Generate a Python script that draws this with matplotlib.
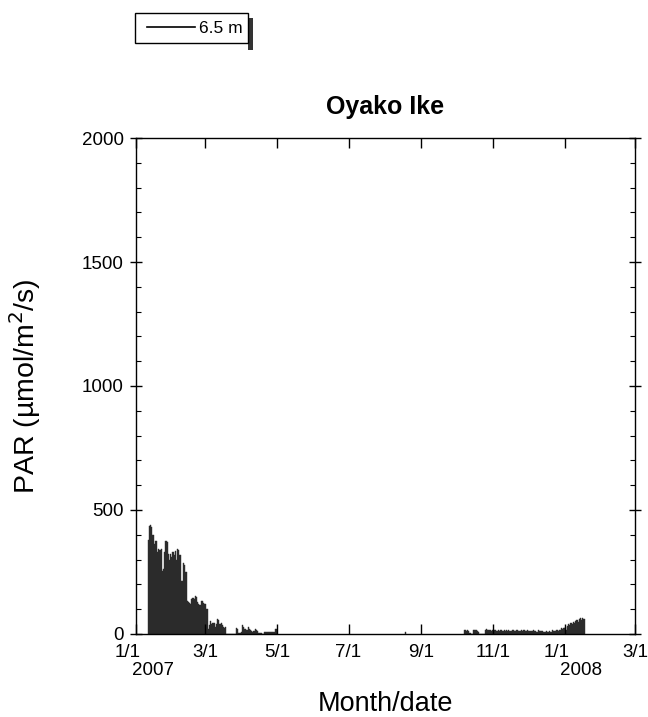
import numpy as np
import matplotlib
matplotlib.use("Agg")
import matplotlib.pyplot as plt
from matplotlib.patches import Rectangle
from matplotlib.lines import Line2D
from matplotlib.ticker import MultipleLocator
from matplotlib.transforms import ScaledTranslation, blended_transform_factory

plt.rcParams["font.family"] = ["Liberation Sans", "DejaVu Sans"]

# Daily PAR at 6.5 m, day numbers counted from 2007-01-01
early_start = 10
early_par = [
    380,
    435, 440, 430, 400,
    363, 375, 375, 330,
    343, 340, 343,
    254, 260,
    330, 375, 370,
    322, 300, 322, 310,
    330, 320, 335, 300,
    343, 340, 320,
    214, 214,
    286, 280, 250,
    133, 130, 125,
    121, 140,
    145, 140,
    153, 150, 130,
    121, 115,
    133, 133, 125,
    121, 121, 100,
    20, 35,
    52, 40, 45,
    44, 30, 40,
    60, 55, 40,
    44, 35,
    28, 25, 28,
    0, 0, 0, 0, 0, 0, 0, 0,
    24, 20,
    4, 5, 8,
    36, 30, 20,
    20, 15,
    28, 20, 15,
    10, 8, 12,
    20, 15, 10,
    4, 4, 4, 0, 0,
    8, 6, 8, 7, 8, 8, 6, 8, 8,
    22, 20,
]
summer_day = [229]
summer_par = [6]
late_start = 279
late_par = [
    14, 16, 12, 16, 10, 3,
    0, 0,
    16, 14, 16, 12, 8,
    0, 0, 0, 0, 0,
    18, 20, 16, 14, 18, 12, 16, 15, 17, 14, 12, 15, 13, 16, 14, 12,
    15, 13, 14, 12, 16, 13, 12, 14, 15, 12, 13, 14, 12, 11, 13, 15,
    12, 14, 13, 12, 14, 12, 10, 13, 12, 14,
    10, 12, 9, 14, 11, 13, 10, 12, 9, 8, 10, 6, 8, 12, 9, 14, 11, 10,
    13, 16, 12, 14, 15,
    26, 20, 24,
    30, 18, 34,
    42, 38, 44, 40,
    50, 46, 52, 55, 48,
    60, 63, 58, 65, 62,
]

tick_days = [0, 59, 120, 181, 243, 304, 365, 425]
tick_labels = ["1/1", "3/1", "5/1", "7/1", "9/1", "11/1", "1/1", "3/1"]
year_days = [0, 365]
year_labels = ["2007", "2008"]

days = np.concatenate([
    early_start + np.arange(len(early_par)),
    np.array(summer_day),
    late_start + np.arange(len(late_par)),
])
vals = np.concatenate([early_par, summer_par, late_par])

fig = plt.figure(figsize=(6.48, 7.17), dpi=100, facecolor="white")
ax = fig.add_axes([0.2099, 0.1158, 0.7701, 0.6917])

ax.bar(days, vals, width=1.0, align="edge", color="#2b2b2b",
       edgecolor="#2b2b2b", linewidth=0.3)

ax.set_xlim(0, 425)
ax.set_ylim(0, 2000)

ax.yaxis.set_major_locator(MultipleLocator(500))
ax.yaxis.set_minor_locator(MultipleLocator(100))
ax.set_xticks(tick_days)
ax.set_xticklabels(tick_labels)

ax.tick_params(axis="y", which="major", direction="inout", length=8,
               width=1, labelsize=13.5, pad=5, right=True)
ax.tick_params(axis="y", which="minor", direction="in", length=3.5,
               width=0.8, right=True)
ax.tick_params(axis="x", which="major", direction="in", length=7,
               width=1, labelsize=13.5, pad=7, top=True)
for sp in ax.spines.values():
    sp.set_linewidth(1.0)

# the two "1/1" labels sit a little left, with the year under them
for lab, d in zip(ax.get_xticklabels(), tick_days):
    if d in year_days:
        lab.set_transform(lab.get_transform()
                          + ScaledTranslation(-6 / 72, 0, fig.dpi_scale_trans))
trans = blended_transform_factory(ax.transData, ax.transAxes)
for d, y in zip(year_days, year_labels):
    ax.text(d, 0, y, transform=trans + ScaledTranslation(12 / 72, -20 / 72,
            fig.dpi_scale_trans), ha="center", va="top", fontsize=13.5)

ax.set_ylabel("PAR (\u00b5mol/m$^2$/s)", fontsize=20.5)
ax.yaxis.set_label_coords(-0.186, 0.5)
ax.set_xlabel("Month/date", fontsize=19.5)
ax.xaxis.set_label_coords(0.5, -0.115)
fig.text(0.595, 0.851, "Oyako Ike", ha="center", va="center",
         fontsize=18, fontweight="bold")

# legend box with dark right-hand shadow
fig.patches.append(Rectangle((0.3827, 0.9303), 0.0077, 0.0446,
                             transform=fig.transFigure, facecolor="#333333",
                             edgecolor="none", zorder=1))
fig.patches.append(Rectangle((0.2083, 0.9400), 0.1744, 0.0418,
                             transform=fig.transFigure, facecolor="white",
                             edgecolor="black", linewidth=1.0, zorder=2))
fig.lines.append(Line2D([0.2269, 0.3009], [0.9623, 0.9623],
                        transform=fig.transFigure, color="black", lw=1.2,
                        zorder=3))
fig.text(0.3071, 0.9605, "6.5 m", ha="left", va="center", fontsize=12.5,
         zorder=3)

fig.savefig("out.png", dpi=100, facecolor="white")
